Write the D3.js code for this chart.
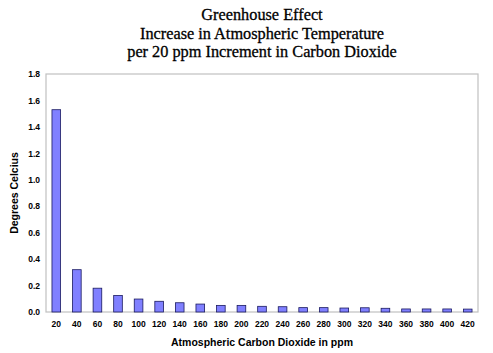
<!DOCTYPE html>
<html><head><meta charset="utf-8">
<script src="https://cdn.jsdelivr.net/npm/d3@7"></script>
<style>body{margin:0;background:#fff}</style>
</head><body>
<script>
const categories = ["20","40","60","80","100","120","140","160","180","200","220","240","260","280","300","320","340","360","380","400","420"];
const values = [1.53,0.32,0.18,0.125,0.098,0.081,0.07,0.06,0.05,0.05,0.043,0.04,0.033,0.033,0.03,0.032,0.028,0.023,0.023,0.023,0.022];
const yTicks = [0,0.2,0.4,0.6,0.8,1.0,1.2,1.4,1.6,1.8];
const titleLines = ["Greenhouse Effect","Increase in Atmospheric Temperature","per 20 ppm Increment in Carbon Dioxide"];

const W=493,H=353;
const m={left:46,right:15,top:74,bottom:41};
const svg=d3.select("body").append("svg").attr("width",W).attr("height",H);
const x=d3.scaleBand().domain(categories).range([m.left,W-m.right]).paddingInner(0.58).paddingOuter(0.29);
const y=d3.scaleLinear().domain([0,1.8]).range([H-m.bottom,m.top]);

svg.append("rect").attr("x",m.left).attr("y",m.top).attr("width",W-m.right-m.left).attr("height",H-m.bottom-m.top)
  .attr("fill","none").attr("stroke","#c0c0c0").attr("stroke-width",1.2);

svg.selectAll(".bar").data(values).enter().append("rect")
  .attr("x",(d,i)=>x(categories[i])).attr("y",d=>y(d)).attr("width",x.bandwidth()).attr("height",d=>y(0)-y(d))
  .attr("fill","#8080ff").attr("stroke","#1a1a60").attr("stroke-width",0.8);

const yAxis=svg.append("g").attr("transform",`translate(${m.left},0)`).call(d3.axisLeft(y).tickValues(yTicks).tickFormat(d3.format(".1f")).tickSize(0).tickPadding(6));
yAxis.select(".domain").remove();
yAxis.selectAll("text").attr("font-family","Liberation Sans, Arial, sans-serif").attr("font-weight","bold").attr("font-size","8.5px").attr("fill","#000");

const xAxis=svg.append("g").attr("transform",`translate(0,${H-m.bottom})`).call(d3.axisBottom(x).tickSize(0).tickPadding(9));
xAxis.select(".domain").remove();
xAxis.selectAll("text").attr("font-family","Liberation Sans, Arial, sans-serif").attr("font-weight","bold").attr("font-size","8.5px").attr("fill","#000");

svg.append("g").selectAll("text").data(titleLines).enter().append("text")
  .attr("x",262).attr("y",(d,i)=>20+i*18.5).attr("text-anchor","middle")
  .attr("font-family","Liberation Serif, Times New Roman, serif").attr("font-size","16.3px").attr("fill","#000")
  .attr("stroke","#000").attr("stroke-width",0.3).text(d=>d);

svg.append("text").attr("x",(m.left+W-m.right)/2).attr("y",346).attr("text-anchor","middle")
  .attr("font-family","Liberation Sans, Arial, sans-serif").attr("font-weight","bold").attr("font-size","10.5px").text("Atmospheric Carbon Dioxide in ppm");

svg.append("text").attr("transform",`translate(18,${(m.top+H-m.bottom)/2}) rotate(-90)`).attr("text-anchor","middle")
  .attr("font-family","Liberation Sans, Arial, sans-serif").attr("font-weight","bold").attr("font-size","10.5px").text("Degrees Celcius");
</script>
</body></html>
